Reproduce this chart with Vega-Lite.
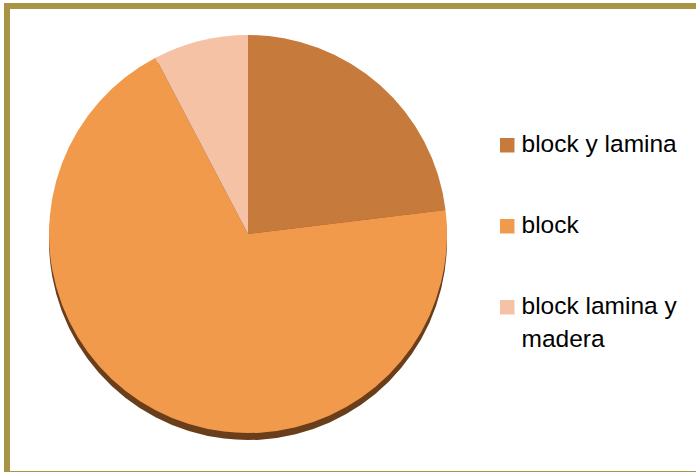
{
  "$schema": "https://vega.github.io/schema/vega-lite/v6.json",
  "width": 720,
  "height": 468,
  "autosize": {"type": "none"},
  "padding": {"left": 7, "top": 6, "right": 0, "bottom": 0},
  "background": "white",
  "view": {"stroke": "#A89444", "strokeWidth": 6, "fill": "white"},
  "config": {
    "view": {"stroke": "#A89444", "strokeWidth": 6},
    "style": {"guide-label": {"lineHeight": 33}}
  },
  "data": {"values": [
    {"material": "block y lamina", "valor": 3, "orden": 1},
    {"material": "block", "valor": 9, "orden": 2},
    {"material": "block lamina y madera", "valor": 1, "orden": 3}
  ]},
  "encoding": {
    "theta": {"field": "valor", "type": "quantitative", "stack": true},
    "order": {"field": "orden", "type": "quantitative"}
  },
  "layer": [
    {
      "mark": {"type": "arc", "outerRadius": 199, "xOffset": -119, "yOffset": 1, "color": "#6B3E1B", "stroke": null}
    },
    {
      "mark": {"type": "arc", "outerRadius": 199, "xOffset": -119, "yOffset": -6, "stroke": null},
      "encoding": {
        "color": {
          "field": "material",
          "type": "nominal",
          "scale": {
            "domain": ["block y lamina", "block", "block lamina y madera"],
            "range": ["#C67A3C", "#F29A4B", "#F5C2A5"]
          },
          "legend": {
            "orient": "none",
            "legendX": 488,
            "legendY": 127,
            "padding": 0,
            "title": null,
            "symbolType": "square",
            "symbolSize": 210,
            "symbolStrokeWidth": 0,
            "labelFontSize": 24.5,
            "labelFont": "Liberation Sans",
            "labelColor": "#000000",
            "labelOffset": 2,
            "labelLimit": 300,
            "rowPadding": 56,
            "labelExpr": "datum.label == 'block lamina y madera' ? ['block lamina y', 'madera'] : datum.label"
          }
        }
      }
    }
  ]
}
